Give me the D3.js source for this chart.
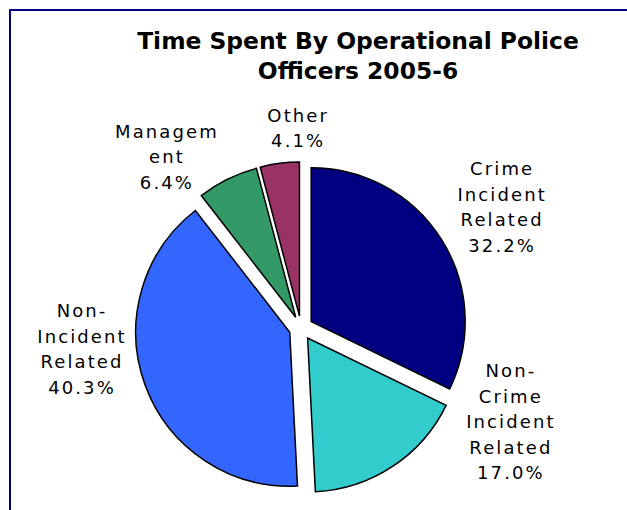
<!DOCTYPE html>
<html>
<head>
<meta charset="utf-8">
<script src="https://cdn.jsdelivr.net/npm/d3@7"></script>
<style>
  html, body { margin: 0; padding: 0; background: #fff; }
  svg { display: block; }
</style>
</head>
<body>
<svg id="chart" width="627" height="510"></svg>
<script>
// Share of operational police officers' time, 2005-6 (percent)
const categories = [
  "Crime Incident Related",
  "Non-Crime Incident Related",
  "Non-Incident Related",
  "Management",
  "Other"
];
const values = [32.2, 17.0, 40.3, 6.4, 4.1];
const labelLines = [
  ["Crime", "Incident", "Related"],
  ["Non-", "Crime", "Incident", "Related"],
  ["Non-", "Incident", "Related"],
  ["Managem", "ent"],
  ["Other"]
];
const colors = ["#000080", "#33CCCC", "#3366FF", "#339966", "#993366"];
const titleLines = ["Time Spent By Operational Police", "Officers 2005-6"];

// Layout
const W = 627, H = 510;
const cx = 301, cy = 328;
const radius = 154;
const explode = 12;
const lineH = 25.5;
// label block centres, as polar offsets (degrees clockwise from 12 o'clock, px)
const labelPolar = [[58.8, 234], [114.2, 229], [264.5, 221], [321.7, 218], [358.9, 200]];

const svg = d3.select("#chart");

// frame (left and top edges)
svg.append("path")
  .attr("d", `M10,${H} L10,10 L${W},10`)
  .attr("fill", "none")
  .attr("stroke", "#000080")
  .attr("stroke-width", 2);

// title
svg.append("text")
  .attr("text-anchor", "middle")
  .attr("font-family", "Verdana, 'DejaVu Sans', sans-serif")
  .attr("font-weight", "bold")
  .attr("font-size", 23.4)
  .attr("fill", "#000")
  .selectAll("tspan")
  .data(titleLines)
  .join("tspan")
  .attr("x", 358)
  .attr("y", (d, i) => 49 + i * 30)
  .text(d => d);

const data = categories.map((c, i) => ({ name: c, value: values[i], color: colors[i], lines: labelLines[i], polar: labelPolar[i] }));

const pie = d3.pie().sort(null).value(d => d.value).startAngle(0).endAngle(2 * Math.PI);
const arc = d3.arc().innerRadius(0).outerRadius(radius);

const g = svg.append("g").attr("transform", `translate(${cx},${cy})`);

g.selectAll("path.slice")
  .data(pie(data))
  .join("path")
  .attr("class", "slice")
  .attr("transform", d => {
    const a = (d.startAngle + d.endAngle) / 2;
    return `translate(${explode * Math.sin(a)},${-explode * Math.cos(a)})`;
  })
  .attr("d", arc)
  .attr("fill", d => d.data.color)
  .attr("stroke", "#000")
  .attr("stroke-width", 1.5)
  .attr("stroke-linejoin", "miter");

// data labels
const labels = g.selectAll("text.label")
  .data(pie(data))
  .join("text")
  .attr("class", "label")
  .attr("text-anchor", "middle")
  .attr("font-family", "Verdana, 'DejaVu Sans', sans-serif")
  .attr("font-size", 18)
  .attr("letter-spacing", 2.1)
  .attr("fill", "#000");

labels.each(function (d) {
  const a = d.data.polar[0] * Math.PI / 180;
  const r = d.data.polar[1];
  const x = r * Math.sin(a) + 1;
  const y = -r * Math.cos(a);
  const rows = d.data.lines.concat([d3.format(".1f")(d.data.value) + "%"]);
  const top = y - (rows.length - 1) * lineH / 2;
  d3.select(this).selectAll("tspan")
    .data(rows)
    .join("tspan")
    .attr("x", x)
    .attr("y", (t, i) => top + i * lineH)
    .attr("dy", "0.36em")
    .text(t => t);
});
</script>
</body>
</html>
